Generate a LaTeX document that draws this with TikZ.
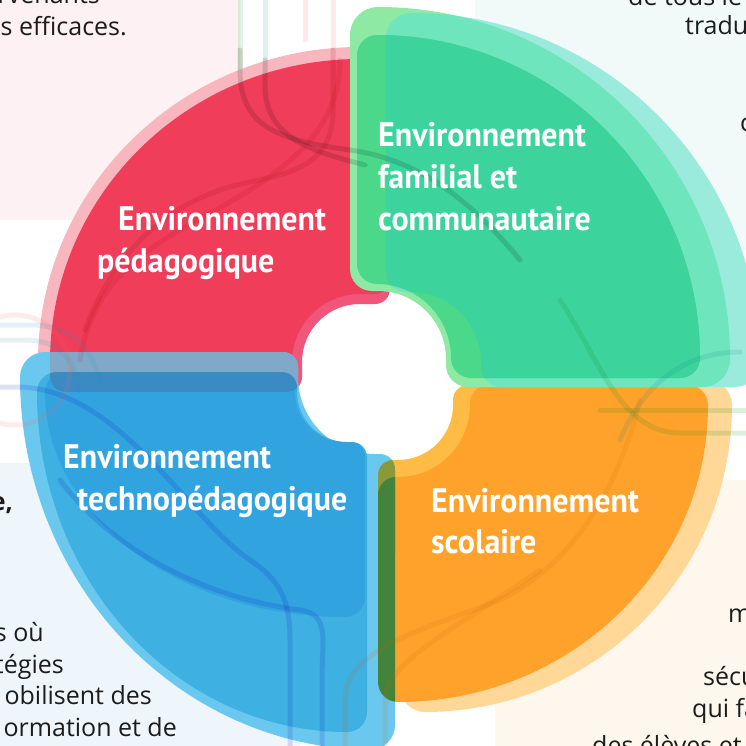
\documentclass[tikz,border=0pt]{standalone}
\usepackage{fontspec}
\setmainfont{Open Sans}
\newfontfamily\labfont[FakeStretch=0.94]{PT Sans}
\definecolor{bgpink}{HTML}{FDF1F3}
\definecolor{bgcyan}{HTML}{F1FAF8}
\definecolor{bgblue}{HTML}{EEF6FC}
\definecolor{bgcream}{HTML}{FDF7EE}
\definecolor{redpink}{HTML}{F8B6BF}
\definecolor{redlip}{HTML}{F0567A}
\definecolor{redmain}{HTML}{EF3D5A}
\definecolor{orlight}{HTML}{FFD796}
\definecolor{orlip}{HTML}{FFBC45}
\definecolor{ormain}{HTML}{FFA22B}
\definecolor{gB}{HTML}{9AEBDC}
\definecolor{gA}{HTML}{8DE9A3}
\definecolor{gAB}{HTML}{6FE5BE}
\definecolor{gMA}{HTML}{4BD88A}
\definecolor{gMB}{HTML}{3DD39D}
\definecolor{bLa}{HTML}{6AC8EE}
\definecolor{bLb}{HTML}{3EB0E2}
\definecolor{bLc}{HTML}{31A4E0}
\definecolor{ovlight}{HTML}{80A9C9}
\definecolor{ovdark}{HTML}{3A8AC3}
\definecolor{ovolive}{HTML}{8A9A3B}
\definecolor{ovgreen}{HTML}{43833B}
\definecolor{txt}{HTML}{1C1C1C}
% quarter ring: Rx, Ry, r, a, b, rho_out, rho_in
\newcommand\qs[7]{(-#4,{#3+#7}) -- (-#4,{#2-#6}) arc[start angle=180,end angle=90,radius=#6] -- (0,#2) arc[start angle=90,end angle=0,x radius=#1,y radius=#2] -- (#1,{-#5+#6}) arc[start angle=0,end angle=-90,radius=#6] -- ({#3+#7},-#5) arc[start angle=-90,end angle=-180,radius=#7] -- (#3,0) arc[start angle=0,end angle=90,radius=#3] -- ({-#4+#7},#3) arc[start angle=-90,end angle=-180,radius=#7] -- cycle}
\tikzset{
  lab/.style={text=white, inner sep=0pt, font=\labfont\bfseries\fontsize{34}{40}\selectfont},
  body/.style={text=txt, inner sep=0pt, font=\fontsize{25}{30}\selectfont},
  tube/.style={line width=5pt, line cap=round, opacity=0.13},
  redT/.style={shift={(360,362)},rotate=180},
  orlT/.style={shift={(425,405)}},
  ormT/.style={shift={(398,405)}},
  gBT/.style={shift={(411,362)},rotate=90},
  gAT/.style={shift={(378,359)},rotate=90},
  gMT/.style={shift={(377,358)},rotate=90},
  b1T/.style={shift={(375,377)},rotate=270},
  b2T/.style={shift={(347,392)},rotate=270},
  b3T/.style={shift={(345,392)},rotate=270}
}
\begin{document}
\begin{tikzpicture}[x=1pt,y=-1pt]
\useasboundingbox (0,0) rectangle (746,746);
\clip (0,0) rectangle (746,746);
% backgrounds
\fill[bgpink] (0,0) rectangle (240,220);
\fill[bgcyan] (475,0) rectangle (746,250);
\fill[bgblue] (0,463) rectangle (300,746);
\fill[bgcream] (495,480) rectangle (746,746);
% pale tubes on the background
\draw[tube,green!60!black,opacity=0.12] (240,-5) -- (240,70);
\draw[tube,teal,opacity=0.12] (265,-5) -- (265,85);
\draw[tube,red!70,opacity=0.12] (305,-5) -- (305,40);
\draw[tube,red!70,opacity=0.12] (333,-5) -- (333,60);
% red quadrant
\fill[redpink,redT] \qs{322}{315}{100}{30}{30}{15}{15};
\fill[redlip,redT] \qs{150}{150}{58}{30}{30}{15}{15};
\fill[redmain,redT] \qs{310}{303}{68}{30}{30}{15}{15};
% orange quadrant
\fill[orlight,orlT] \qs{307}{307}{60}{25}{25}{25}{15};
\fill[orlip,ormT] \qs{150}{150}{55}{20}{20}{15}{15};
\fill[ormain,ormT] \qs{310}{297}{72}{20}{20}{20}{18};
% green quadrant
\fill[gB,gBT] \qs{349}{349}{70}{25}{25}{25}{20};
\fill[gA,gAT] \qs{352}{352}{68}{28}{28}{28}{22};
\begin{scope}
  \clip[gBT] \qs{349}{349}{70}{25}{25}{25}{20};
  \fill[gAB,gAT] \qs{352}{352}{68}{28}{28}{28}{22};
\end{scope}
\fill[gMA,gMT] \qs{323}{323}{74}{20}{20}{20}{20};
\begin{scope}
  \clip[gBT] \qs{349}{349}{70}{25}{25}{25}{20};
  \fill[gMB,gMT] \qs{323}{323}{74}{20}{20}{20}{20};
\end{scope}
% blue quadrant
\fill[bLa,b1T] \qs{373}{355}{77}{25}{20}{25}{15};
\fill[bLb,b2T] \qs{340}{310}{50}{20}{20}{20}{15};
\fill[bLc,b3T] \qs{225}{300}{50}{20}{20}{20}{15};
% overlaps
\begin{scope}
  \clip[redT] \qs{310}{303}{58}{30}{30}{15}{15};
  \fill[ovlight,b1T] \qs{373}{355}{77}{25}{20}{25}{15};
  \fill[ovdark,b2T] \qs{340}{310}{50}{20}{20}{20}{15};
\end{scope}
\begin{scope}
  \clip[b1T] \qs{373}{355}{77}{25}{20}{25}{15};
  \fill[ovolive,ormT] \qs{150}{150}{55}{20}{20}{15}{15};
  \fill[ovgreen,ormT] \qs{310}{297}{72}{20}{20}{20}{18};
\end{scope}
% decorative tubes
\draw[tube,black] (240,50) -- (240,70) .. controls (240,125) and (275,140) .. (350,150) .. controls (420,160) and (470,200) .. (520,260);
\draw[tube,black] (265,60) -- (265,85) .. controls (265,135) and (305,150) .. (365,165);
\draw[tube,red!60!black] (333,50) -- (333,110) .. controls (333,160) and (300,172) .. (250,182) .. controls (170,198) and (115,250) .. (85,330);
\draw[tube,red!70!black,opacity=0.1] (340,60) .. controls (340,150) and (250,190) .. (180,230) .. controls (120,265) and (90,300) .. (80,360);
\draw[tube,cyan!70!black] (-5,325) -- (30,325) .. controls (70,325) and (90,345) .. (100,380);
\draw[tube,cyan!70!black] (-5,340) -- (25,340) .. controls (60,340) and (75,360) .. (78,390);
\draw[tube,red!60] (70,370) arc[start angle=0,end angle=160,radius=55];
\draw[tube,red!60] (70,370) arc[start angle=0,end angle=-120,radius=55];
\draw[tube,blue!70!black] (-5,387) -- (20,387) .. controls (120,390) and (190,520) .. (250,560) .. controls (280,580) and (290,600) .. (290,640) -- (290,750);
\draw[tube,blue!70!black] (60,480) .. controls (120,560) and (220,600) .. (300,610) .. controls (330,614) and (322,640) .. (322,680) -- (322,750);
\draw[tube,orange!80!black] (345,750) -- (345,700) .. controls (345,650) and (420,630) .. (500,600) .. controls (580,560) and (620,480) .. (640,400);
\draw[tube,orange!80!black] (385,750) -- (385,700) .. controls (385,660) and (470,620) .. (540,570);
\draw[tube,green!50!black] (600,410) -- (750,410);
\draw[tube,green!50!black] (560,300) .. controls (600,360) and (620,433) .. (680,433) -- (750,433);
\draw[tube,teal] (740,352) .. controls (680,352) and (640,390) .. (620,440);
% labels
\node[lab,anchor=base west] (pe1) at (118,230) {Environnement};
\node[lab,anchor=base west] (pe2) at (97,272) {pédagogique};
\node[lab,anchor=base west] (fa1) at (378,147) {Environnement};
\node[lab,anchor=base west] (fa2) at (378,189) {familial et};
\node[lab,anchor=base west] (fa3) at (378,230) {communautaire};
\node[lab,anchor=base west] (te1) at (63,468) {Environnement};
\node[lab,anchor=base west] (te2) at (77,510) {technopédagogique};
\node[lab,anchor=base west] (sc1) at (431,512) {Environnement};
\node[lab,anchor=base west] (sc2) at (431,553) {scolaire};
% body text fragments
\node[body,anchor=base east] (t1) at (100,4) {rvenants};
\node[body,anchor=base east] (t2) at (127,36) {s efficaces.};
\node[body,anchor=base west] (t3) at (628,6) {de tous le};
\node[body,anchor=base west] (t4) at (685,35) {tradu};
\node[body,anchor=base west] (t5) at (740,132) {c};
\node[body,anchor=base east,font=\bfseries\fontsize{25}{30}\selectfont] (t6) at (13,510) {e,};
\node[body,anchor=base east] (t7) at (44,641) {s où};
\node[body,anchor=base east] (t8) at (64,673) {tégies};
\node[body,anchor=base east] (t9) at (152,704) {obilisent des};
\node[body,anchor=base east] (t10) at (177,736) {ormation et de};
\node[body,anchor=base west] (t11) at (728,622) {m};
\node[body,anchor=base west] (t12) at (703,685) {sécu};
\node[body,anchor=base west] (t13) at (692,717) {qui fa};
\node[body,anchor=base west] (t14) at (592,754) {des élèves et};
\end{tikzpicture}
\end{document}
